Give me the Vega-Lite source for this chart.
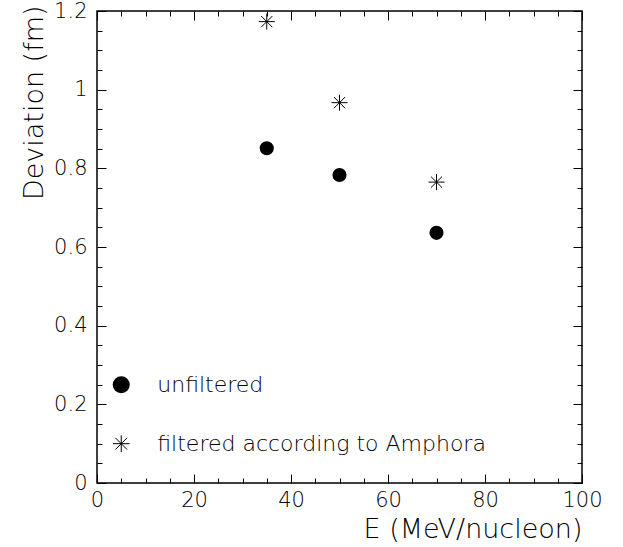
{
  "$schema": "https://vega.github.io/schema/vega-lite/v6.json",
  "width": 485,
  "height": 472,
  "autosize": "none",
  "padding": {"left": 97, "top": 11, "right": 41, "bottom": 64},
  "background": "white",
  "config": {
    "view": {"stroke": "black", "strokeWidth": 1.5},
    "font": "DejaVu Sans",
    "axis": {
      "domain": false,
      "grid": false,
      "labelColor": "black",
      "titleColor": "black",
      "labelFont": "DejaVu Sans",
      "titleFont": "DejaVu Sans",
      "labelFontSize": 21,
      "labelFontWeight": 300,
      "titleFontWeight": 300,
      "titleFontSize": 27,
      "tickColor": "black",
      "tickWidth": 1,
      "labelFlush": false,
      "labelOverlap": false,
      "labelBound": false
    }
  },
  "datasets": {
    "points": [
      {"E": 35, "deviation": 0.851, "series": "unfiltered"},
      {"E": 50, "deviation": 0.783, "series": "unfiltered"},
      {"E": 70, "deviation": 0.636, "series": "unfiltered"},
      {"E": 35, "deviation": 1.173, "series": "filtered"},
      {"E": 50, "deviation": 0.967, "series": "filtered"},
      {"E": 70, "deviation": 0.765, "series": "filtered"}
    ],
    "legend": [
      {"E": 5, "deviation": 0.25, "label": "unfiltered", "series": "unfiltered"},
      {"E": 5, "deviation": 0.10, "label": "filtered according to Amphora", "series": "filtered"}
    ]
  },
  "resolve": {"axis": {"x": "independent", "y": "independent"}},
  "layer": [
    {
      "data": {"name": "points"},
      "transform": [{"filter": "datum.series === 'unfiltered'"}],
      "mark": {"type": "point", "shape": "circle", "filled": true, "color": "black", "opacity": 1, "size": 200},
      "encoding": {
        "x": {
          "field": "E", "type": "quantitative",
          "scale": {"domain": [0, 100], "nice": false, "zero": false},
          "axis": {
            "orient": "bottom",
            "values": [0,5,10,15,20,25,30,35,40,45,50,55,60,65,70,75,80,85,90,95,100],
            "labelExpr": "datum.value % 20 === 0 ? format(datum.value, 'd') : ''",
            "tickSize": {"condition": {"test": "datum.value % 20 === 0", "value": -9}, "value": -5},
            "labelPadding": 15,
            "title": "E (MeV/nucleon)",
            "titleAnchor": "end",
            "titleAlign": "right",
            "titleBaseline": "alphabetic",
            "titleX": 485,
            "titleY": 54
          }
        },
        "y": {
          "field": "deviation", "type": "quantitative",
          "scale": {"domain": [0, 1.2], "nice": false, "zero": false},
          "axis": {
            "orient": "left",
            "values": [0,0.05,0.1,0.15,0.2,0.25,0.3,0.35,0.4,0.45,0.5,0.55,0.6,0.65,0.7,0.75,0.8,0.85,0.9,0.95,1,1.05,1.1,1.15,1.2],
            "labelExpr": "abs(datum.value*5 - round(datum.value*5)) < 1e-6 ? format(datum.value, '~g') : ''",
            "tickSize": {"condition": {"test": "abs(datum.value*5 - round(datum.value*5)) < 1e-6", "value": -9}, "value": -5},
            "labelPadding": 19,
            "title": "Deviation (fm)",
            "titleAnchor": "end",
            "titleAngle": 270,
            "titleAlign": "right",
            "titleBaseline": "alphabetic",
            "titleX": -55,
            "titleY": -6
          }
        }
      }
    },
    {
      "data": {"name": "points"},
      "transform": [{"filter": "datum.series === 'filtered'"}],
      "mark": {"type": "point", "shape": "M-1,0L1,0M0,-1L0,1M-0.7,-0.7L0.7,0.7M-0.7,0.7L0.7,-0.7", "filled": false, "stroke": "black", "strokeWidth": 1, "opacity": 1, "size": 256},
      "encoding": {
        "x": {"field": "E", "type": "quantitative", "axis": null},
        "y": {"field": "deviation", "type": "quantitative", "axis": null}
      }
    },
    {
      "data": {"name": "legend"},
      "transform": [{"filter": "datum.series === 'unfiltered'"}],
      "mark": {"type": "point", "shape": "circle", "filled": true, "color": "black", "opacity": 1, "size": 290},
      "encoding": {
        "x": {"field": "E", "type": "quantitative", "axis": null},
        "y": {"field": "deviation", "type": "quantitative", "axis": null}
      }
    },
    {
      "data": {"name": "legend"},
      "transform": [{"filter": "datum.series === 'filtered'"}],
      "mark": {"type": "point", "shape": "M-1,0L1,0M0,-1L0,1M-0.7,-0.7L0.7,0.7M-0.7,0.7L0.7,-0.7", "filled": false, "stroke": "black", "strokeWidth": 1, "opacity": 1, "size": 280},
      "encoding": {
        "x": {"field": "E", "type": "quantitative", "axis": null},
        "y": {"field": "deviation", "type": "quantitative", "axis": null}
      }
    },
    {
      "data": {"name": "legend"},
      "mark": {"type": "text", "align": "left", "baseline": "middle", "dx": 36, "fontSize": 22, "fontWeight": 300, "font": "DejaVu Sans", "color": "black"},
      "encoding": {
        "x": {"field": "E", "type": "quantitative", "axis": null},
        "y": {"field": "deviation", "type": "quantitative", "axis": null},
        "text": {"field": "label"}
      }
    },
    {
      "data": {"name": "points"},
      "mark": {"type": "point", "opacity": 0},
      "encoding": {
        "x": {
          "field": "E", "type": "quantitative",
          "axis": {
            "orient": "top",
            "values": [0,5,10,15,20,25,30,35,40,45,50,55,60,65,70,75,80,85,90,95,100],
            "labels": false,
            "title": null,
            "tickSize": {"condition": {"test": "datum.value % 20 === 0", "value": -9}, "value": -5}
          }
        },
        "y": {
          "field": "deviation", "type": "quantitative",
          "axis": {
            "orient": "right",
            "values": [0,0.05,0.1,0.15,0.2,0.25,0.3,0.35,0.4,0.45,0.5,0.55,0.6,0.65,0.7,0.75,0.8,0.85,0.9,0.95,1,1.05,1.1,1.15,1.2],
            "labels": false,
            "title": null,
            "tickSize": {"condition": {"test": "abs(datum.value*5 - round(datum.value*5)) < 1e-6", "value": -9}, "value": -5}
          }
        }
      }
    }
  ]
}
